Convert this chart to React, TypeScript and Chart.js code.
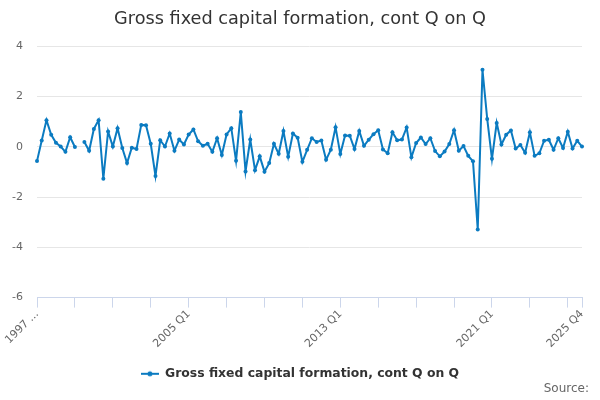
import React, { useEffect, useRef } from "react";
import { Chart, registerables } from "chart.js";

Chart.register(...registerables);

const TITLE = "Gross fixed capital formation, cont Q on Q";
const SERIES_NAME = "Gross fixed capital formation, cont Q on Q";
const SOURCE_TEXT = "Source:";

const YEARS = [
  1997, 1998, 1999, 2000, 2001, 2002, 2003, 2004, 2005, 2006, 2007, 2008, 2009, 2010, 2011,
  2012, 2013, 2014, 2015, 2016, 2017, 2018, 2019, 2020, 2021, 2022, 2023, 2024, 2025,
];
const QUARTERS = ["Q1", "Q2", "Q3", "Q4"];
const CATEGORIES: string[] = [];
YEARS.forEach((y) => QUARTERS.forEach((q) => CATEGORIES.push(`${y} ${q}`)));

const VALUES: (number | null)[] = [
  -0.57, 0.25, 1.06, 0.48, 0.16, 0.01, -0.2, 0.38,
  -0.01, null, 0.19, -0.16, 0.71, 1.06, -1.27, 0.61,
  0.01, 0.74, -0.05, -0.65, -0.04, -0.09, 0.87, 0.86,
  0.12, -1.16, 0.26, 0.01, 0.53, -0.16, 0.29, 0.09,
  0.49, 0.69, 0.22, 0.04, 0.12, -0.2, 0.34, -0.33,
  0.49, 0.74, -0.56, 1.38, -0.98, 0.29, -0.93, -0.38,
  -0.99, -0.65, 0.12, -0.28, 0.63, -0.4, 0.53, 0.36,
  -0.6, -0.12, 0.34, 0.19, 0.25, -0.52, -0.12, 0.78,
  -0.29, 0.45, 0.44, -0.09, 0.63, 0.04, 0.28, 0.5,
  0.66, -0.11, -0.26, 0.58, 0.26, 0.29, 0.77, -0.42,
  0.15, 0.37, 0.11, 0.34, -0.17, -0.38, -0.19, 0.11,
  0.66, -0.16, 0.03, -0.36, -0.58, -3.29, 3.06, 1.11,
  -0.48, 0.95, 0.09, 0.48, 0.65, -0.07, 0.07, -0.24,
  0.58, -0.36, -0.26, 0.24, 0.28, -0.12, 0.34, -0.05,
  0.6, -0.07, 0.24, 0.01,
];

const Y_MIN = -6;
const Y_MAX = 4;
const Y_STEP = 2;
const LABEL_EVERY = 32;
const TICK_EVERY = 8;
const FIRST_LABEL_TEXT = "1997 ...";

const LINE_COLOR = "#0b7bc1";
const FONT = '"DejaVu Sans", sans-serif';

function makeLegendSymbol(): HTMLCanvasElement {
  const c = document.createElement("canvas");
  c.width = 18;
  c.height = 8;
  const g = c.getContext("2d")!;
  g.strokeStyle = LINE_COLOR;
  g.lineWidth = 2;
  g.beginPath();
  g.moveTo(0, 4);
  g.lineTo(18, 4);
  g.stroke();
  g.fillStyle = LINE_COLOR;
  g.beginPath();
  g.arc(9, 4, 2.5, 0, Math.PI * 2);
  g.fill();
  return c;
}

const sourcePlugin = {
  id: "sourceText",
  afterDraw(chart: any) {
    const { ctx } = chart;
    ctx.save();
    ctx.font = `12px ${FONT}`;
    ctx.fillStyle = "#666666";
    ctx.textAlign = "right";
    ctx.textBaseline = "middle";
    ctx.fillText(SOURCE_TEXT, chart.width - 11, chart.height - 11);
    ctx.restore();
  },
};

export default function App() {
  const ref = useRef<HTMLCanvasElement | null>(null);

  useEffect(() => {
    if (!ref.current) return;
    const last = CATEGORIES.length - 1;
    const symbol = makeLegendSymbol();
    const chart = new Chart(ref.current, {
      type: "line",
      data: {
        labels: CATEGORIES,
        datasets: [
          {
            label: SERIES_NAME,
            data: VALUES,
            borderColor: LINE_COLOR,
            backgroundColor: LINE_COLOR,
            borderWidth: 2,
            pointRadius: 2,
            pointBorderWidth: 0,
            pointStyle: "circle",
            tension: 0,
            spanGaps: false,
          } as any,
        ],
      },
      options: {
        animation: false,
        responsive: true,
        maintainAspectRatio: false,
        layout: { padding: { left: 0, right: 0, top: 0, bottom: 10 } },
        plugins: {
          title: {
            display: true,
            text: TITLE,
            color: "#333333",
            font: { family: FONT, size: 17.7, weight: "normal" as any },
            padding: { top: 9, bottom: 16 },
          },
          legend: {
            position: "bottom",
            labels: {
              color: "#333333",
              font: { family: FONT, size: 12.4, weight: "bold" as any },
              usePointStyle: true,
              pointStyleWidth: 18,
              padding: 10,
              generateLabels: () => [
                {
                  text: SERIES_NAME,
                  fillStyle: LINE_COLOR,
                  strokeStyle: LINE_COLOR,
                  lineWidth: 0,
                  pointStyle: symbol,
                  hidden: false,
                  datasetIndex: 0,
                  fontColor: "#333333",
                },
              ],
            },
          },
          tooltip: { enabled: false },
        },
        scales: {
          x: {
            type: "category",
            offset: false,
            afterFit: (scale: any) => {
              scale.height = 60;
              scale.paddingRight = 18;
            },
            border: { display: true, color: "#ccd6eb", width: 1 },
            grid: {
              drawOnChartArea: false,
              drawTicks: true,
              tickLength: 10,
              color: (ctx: any) =>
                ctx.index % TICK_EVERY === 0 || ctx.index === last ? "#ccd6eb" : "rgba(0,0,0,0)",
            },
            ticks: {
              autoSkip: false,
              minRotation: 45,
              maxRotation: 45,
              padding: 0,
              color: "#666666",
              font: { family: FONT, size: 11 },
              callback: (_v: any, i: number) => {
                if (i === 0) return FIRST_LABEL_TEXT;
                if (i % LABEL_EVERY === 0 || i === last) return CATEGORIES[i];
                return "";
              },
            },
          },
          y: {
            min: Y_MIN,
            max: Y_MAX,
            afterFit: (scale: any) => {
              scale.width = 37;
            },
            border: { display: false },
            grid: { color: "#e6e6e6", drawTicks: false },
            ticks: {
              stepSize: Y_STEP,
              padding: 14,
              color: "#666666",
              font: { family: FONT, size: 11 },
            },
          },
        },
      } as any,
      plugins: [sourcePlugin],
    });
    return () => chart.destroy();
  }, []);

  return (
    <div style={{ position: "fixed", left: 0, top: 0, width: 600, height: 400, background: "#fff" }}>
      <canvas ref={ref} />
    </div>
  );
}
